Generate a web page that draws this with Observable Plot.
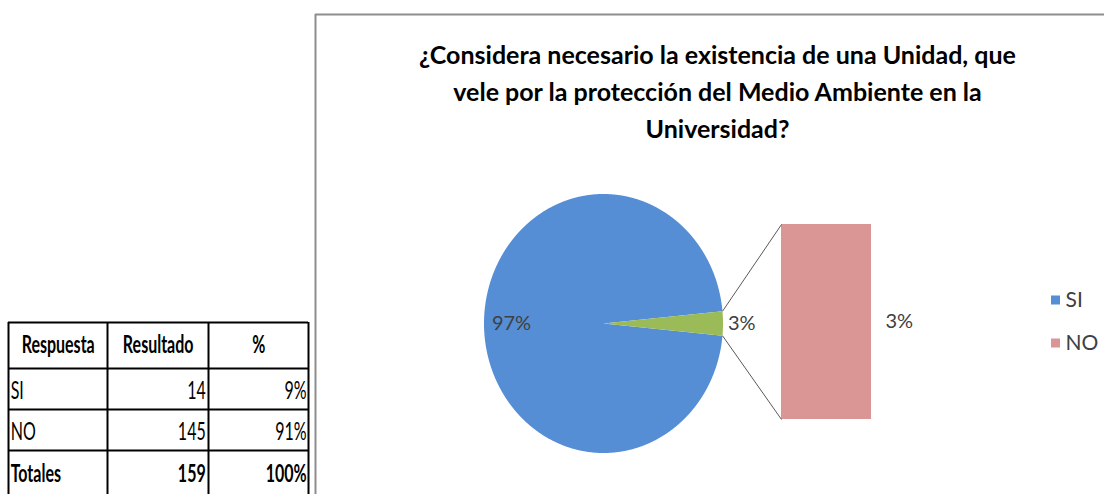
<!DOCTYPE html>
<html><head><meta charset="utf-8">
<script src="https://cdn.jsdelivr.net/npm/d3@7"></script>
<script src="https://cdn.jsdelivr.net/npm/@observablehq/plot@0.6"></script>
<style>
body{margin:0;background:#fff;overflow:hidden}
#wrap{position:relative;width:1104px;height:494px}
#wrap svg{display:block}
#tbl{position:absolute;left:0;top:0}
</style>
</head><body><div id="wrap"><div id="main"></div><div id="tbl"></div></div>
<script>
// ---- data ----
const title = "¿Considera necesario la existencia de una Unidad, que\nvele por la protección del Medio Ambiente en la\nUniversidad?";
const categories = ["SI", "NO"];
const percents = [97, 3];
const legendLabels = ["SI", "NO"];
const tableHeader = ["Respuesta", "Resultado", "%"];
const tableRespuestas = ["SI", "NO", "Totales"];
const tableResultados = [14, 145, 159];
const tablePorcentajes = ["9%", "91%", "100%"];

// ---- layout / style ----
const W = 1104, H = 494;
const frame = {left: 315, top: 14};
const cx = 603, cy = 323, rx = 119.5, ry = 129.5;
const bar = {x1: 781, x2: 871, top: 224, bottom: 419};
const colorDomain = ["SI", "other", "NO"];
const colorRange = ["#558ED5", "#9BBB59", "#D99694"];
const labelColor = "#404040";

// ---- pie of bar geometry ----
const total = d3.sum(percents);
const secondary = [1]; // index of NO -> bar
const otherVal = d3.sum(secondary, i => percents[i]);
const mainSlices = [{key: categories[0], value: percents[0]}, {key: "other", value: otherVal}];
const half = Math.PI * otherVal / total;
const start = Math.PI / 2 + half;
const arcs = d3.pie().value(d => d.value).sort(null).startAngle(start).endAngle(start + 2 * Math.PI)(mainSlices);
const pt = (a, k = 1) => ({x: cx + k * rx * Math.sin(a), y: cy - k * ry * Math.cos(a)});
const polys = [];
for (const a of arcs) {
  const n = Math.max(4, Math.ceil((a.endAngle - a.startAngle) / 0.004));
  polys.push({key: a.data.key, x: cx, y: cy});
  for (let i = 0; i <= n; i++) polys.push({key: a.data.key, ...pt(a.startAngle + (a.endAngle - a.startAngle) * i / n)});
  polys.push({key: a.data.key, x: cx, y: cy});
}
const mid = a => (a.startAngle + a.endAngle) / 2;
const mainLabel = [{...pt(mid(arcs[0]), 0.77), t: percents[0] + "%"}];
const otherLabel = [{x: pt(mid(arcs[1]), 1).x + 5, y: pt(mid(arcs[1]), 1).y, t: otherVal + "%"}];
const barScale = d3.scaleLinear().domain([0, otherVal]).range([bar.bottom, bar.top]);
let acc = 0;
const barData = secondary.map(i => {
  const d = {key: categories[i], y1: barScale(acc), y2: barScale(acc + percents[i]), v: percents[i]};
  acc += percents[i];
  return d;
});
const g = arcs[1];
const connectors = [
  {x1: pt(g.startAngle).x, y1: pt(g.startAngle).y, x2: bar.x1, y2: barScale(otherVal)},
  {x1: pt(g.endAngle).x, y1: pt(g.endAngle).y, x2: bar.x1, y2: barScale(0)}
];
const legend = legendLabels.map((k, i) => ({key: k, y: 300 + i * 43}));

const chart = Plot.plot({
  width: W, height: H, margin: 0,
  x: {type: "identity", axis: null},
  y: {type: "identity", axis: null},
  color: {domain: colorDomain, range: colorRange},
  style: {fontFamily: "Lato, sans-serif", background: "white", overflow: "visible"},
  marks: [
    Plot.ruleX([frame.left], {x: d => d, y1: frame.top, y2: H, stroke: "#8e8e8e", strokeWidth: 2}),
    Plot.ruleY([frame.top], {y: d => d, x1: frame.left, x2: W, stroke: "#8e8e8e", strokeWidth: 2}),
    Plot.text([title], {x: () => 717, y: () => 89, text: d => d, fontSize: 25, fontWeight: "bold", lineHeight: 37 / 25, fill: "#000", textAnchor: "middle"}),
    Plot.line(polys, {x: "x", y: "y", z: "key", fill: "key", stroke: "none", curve: "linear"}),
    Plot.rect(barData, {x1: () => bar.x1, x2: () => bar.x2, y1: "y1", y2: "y2", fill: "key"}),
    Plot.link(connectors, {x1: "x1", y1: "y1", x2: "x2", y2: "y2", stroke: "#595959", strokeWidth: 1}),
    Plot.text(mainLabel, {x: "x", y: "y", text: "t", textAnchor: "middle", fontSize: 20, fill: labelColor}),
    Plot.text(otherLabel, {x: "x", y: "y", text: "t", textAnchor: "start", fontSize: 20, fill: labelColor}),
    Plot.text(barData, {x: () => bar.x2 + 14, y: d => (d.y1 + d.y2) / 2, text: d => d.v + "%", textAnchor: "start", fontSize: 20, fill: labelColor}),
    Plot.rect(legend, {x1: () => 1051, x2: () => 1060, y1: d => d.y - 4.5, y2: d => d.y + 4.5, fill: "key"}),
    Plot.text(legend, {x: () => 1065, y: "y", text: "key", textAnchor: "start", fontSize: 21, fill: labelColor})
  ]
});
document.getElementById("main").appendChild(chart);

// ---- table ----
const colX = [8, 107, 208, 308];
const rowY = [322, 368, 409, 450];
const headCells = tableHeader.map((t, i) => ({t, x: (colX[i] + colX[i + 1]) / 2, y: 344}));
const rowCenters = [390, 431, 473];
const nameCells = tableRespuestas.map((r, i) => ({t: r, x: colX[0] + 2, y: rowCenters[i], bold: i === tableRespuestas.length - 1}));
const numCells = tableResultados.map((v, i) => ({t: String(v), x: colX[2] - 3, y: rowCenters[i], bold: i === tableResultados.length - 1}));
const pctCells = tablePorcentajes.map((v, i) => ({t: v, x: colX[3] - 2, y: rowCenters[i], bold: i === tablePorcentajes.length - 1}));
const bodyMarks = [];
for (const [cells, anchor] of [[nameCells, "start"], [numCells, "end"], [pctCells, "end"]]) {
  bodyMarks.push(Plot.text(cells.filter(d => !d.bold), {x: "x", y: "y", text: "t", textAnchor: anchor, fontSize: 25, fill: "#000"}));
  bodyMarks.push(Plot.text(cells.filter(d => d.bold), {x: "x", y: "y", text: "t", textAnchor: anchor, fontSize: 25, fontWeight: "bold", fill: "#000"}));
}
const tbl = Plot.plot({
  width: 320, height: H, margin: 0,
  x: {type: "identity", axis: null},
  y: {type: "identity", axis: null},
  style: {fontFamily: "Lato, sans-serif", overflow: "visible", background: "transparent"},
  marks: [
    Plot.ruleY(rowY, {y: d => d, x1: colX[0], x2: colX[3], stroke: "#000", strokeWidth: 2}),
    Plot.ruleX(colX, {x: d => d, y1: rowY[0], y2: H, stroke: "#000", strokeWidth: 2}),
    Plot.text(headCells, {x: "x", y: "y", text: "t", textAnchor: "middle", fontSize: 25, fontWeight: "bold", fill: "#000"}),
    ...bodyMarks
  ]
});
document.getElementById("tbl").appendChild(tbl);
// condensed table lettering: horizontal squeeze about each text's anchor
const squeeze = 0.64;
const sr = tbl.getBoundingClientRect();
tbl.querySelectorAll("text").forEach(t => {
  const r = t.getBoundingClientRect();
  const anchor = getComputedStyle(t).textAnchor;
  const ax = (anchor === "start" ? r.left : anchor === "end" ? r.right : (r.left + r.right) / 2) - sr.left;
  const wrapG = document.createElementNS("http://www.w3.org/2000/svg", "g");
  wrapG.setAttribute("transform", `translate(${ax},0) scale(${squeeze},1) translate(${-ax},0)`);
  t.parentNode.insertBefore(wrapG, t);
  wrapG.appendChild(t);
});
</script>
</body></html>
